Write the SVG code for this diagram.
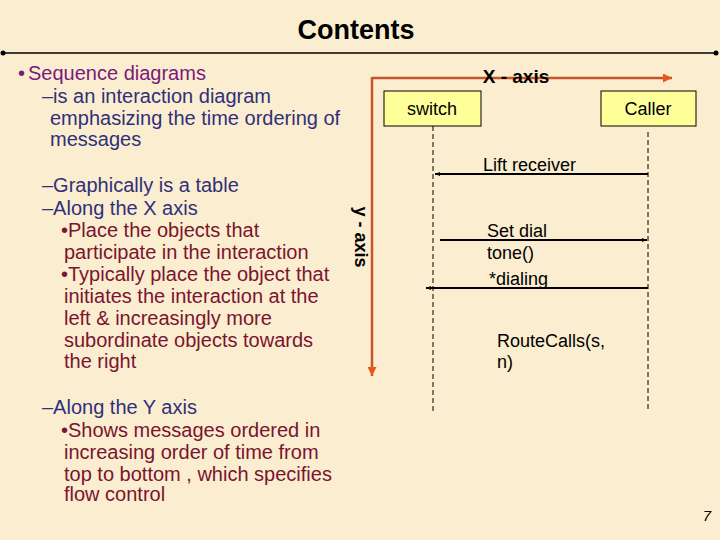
<svg xmlns="http://www.w3.org/2000/svg" width="720" height="540" viewBox="0 0 720 540">
<defs>
<style>
.t{font-family:"Liberation Sans",Arial,sans-serif}
.pur{fill:#7a1a7a;font-size:20px}
.nav{fill:#30307a;font-size:20px}
.red{fill:#7a1430;font-size:20px}
.lbl{font-family:"Liberation Sans",Arial,sans-serif;font-size:18px;fill:#000}
.box{fill:#ffff99;stroke:#000;stroke-width:1}
.life{stroke:#000;stroke-width:1;stroke-dasharray:5,3;fill:none}
.msg{stroke:#000;stroke-width:2;fill:none}
.axis{stroke:#c8542a;stroke-width:2.5;fill:none}
</style>
<marker id="ah" viewBox="0 0 10 10" refX="10" refY="5" markerWidth="5" markerHeight="5" orient="auto" markerUnits="userSpaceOnUse">
<path d="M0,1 L10,5 L0,9 z" fill="#000"/>
</marker>
<marker id="oh" viewBox="0 0 10 10" refX="10" refY="5" markerWidth="9" markerHeight="9" orient="auto" markerUnits="userSpaceOnUse">
<path d="M0,0 L10,5 L0,10 z" fill="#e8561c"/>
</marker>
</defs>
<rect width="720" height="540" fill="#fbedcf"/>
<text class="t" x="356" y="39" font-size="27" font-weight="bold" text-anchor="middle" fill="#000">Contents</text>
<line x1="3" y1="53" x2="716" y2="53" stroke="#000" stroke-width="1.5"/>
<circle cx="3" cy="53" r="2.5" fill="#000"/>
<circle cx="716" cy="53" r="2.5" fill="#000"/>
<g id="bullets" class="t">
<text class="pur" x="18" y="80">•</text>
<text class="pur" x="28" y="80">Sequence diagrams</text>
<text class="nav" x="42" y="103">–is an interaction diagram</text>
<text class="nav" x="50" y="125">emphasizing the time ordering of</text>
<text class="nav" x="50" y="146">messages</text>
<text class="nav" x="42" y="192">–Graphically is a table</text>
<text class="nav" x="42" y="215">–Along the X axis</text>
<text class="red" x="61" y="237">•Place the objects that</text>
<text class="red" x="64" y="259">participate in the interaction</text>
<text class="red" x="61" y="281">•Typically place the object that</text>
<text class="red" x="64" y="303">initiates the interaction at the</text>
<text class="red" x="64" y="325">left &amp; increasingly more</text>
<text class="red" x="64" y="347">subordinate objects towards</text>
<text class="red" x="64" y="368">the right</text>
<text class="nav" x="42" y="414">–Along the Y axis</text>
<text class="red" x="61" y="437">•Shows messages ordered in</text>
<text class="red" x="64" y="459">increasing order of time from</text>
<text class="red" x="64" y="481">top to bottom , which specifies</text>
<text class="red" x="64" y="501">flow control</text>
</g>
<g id="axes">
<path class="axis" d="M372,78 L672,78" marker-end="url(#oh)"/>
<path class="axis" d="M372,77 L372,376" marker-end="url(#oh)"/>
<text class="t" x="516" y="83" font-size="19" font-weight="bold" text-anchor="middle" fill="#000">X - axis</text>
<text class="t" transform="translate(355,237) rotate(90)" font-size="18" font-weight="bold" text-anchor="middle" fill="#000">y - axis</text>
</g>
<g id="switch">
<rect class="box" x="384" y="91" width="97" height="35"/>
<text class="lbl" x="432" y="115" text-anchor="middle">switch</text>
</g>
<g id="caller">
<rect class="box" x="601" y="91" width="95" height="35"/>
<text class="lbl" x="648" y="115" text-anchor="middle">Caller</text>
</g>
<g id="connectors">
<line class="life" x1="433" y1="126" x2="433" y2="413"/>
<line class="life" x1="648" y1="132" x2="648" y2="409"/>
<line class="msg" x1="648" y1="174" x2="435" y2="174" marker-end="url(#ah)"/>
<line class="msg" x1="440" y1="240" x2="647" y2="240" marker-end="url(#ah)"/>
<line class="msg" x1="648" y1="288" x2="426" y2="288" marker-end="url(#ah)"/>
<text class="lbl" x="483" y="171">Lift receiver</text>
<text class="lbl" x="487" y="237">Set dial</text>
<text class="lbl" x="487" y="259">tone()</text>
<text class="lbl" x="489" y="285">*dialing</text>
<text class="lbl" x="497" y="347">RouteCalls(s,</text>
<text class="lbl" x="497" y="368">n)</text>
</g>
<text class="t" x="711" y="521" font-size="15" font-style="italic" text-anchor="end" fill="#000">7</text>
</svg>
